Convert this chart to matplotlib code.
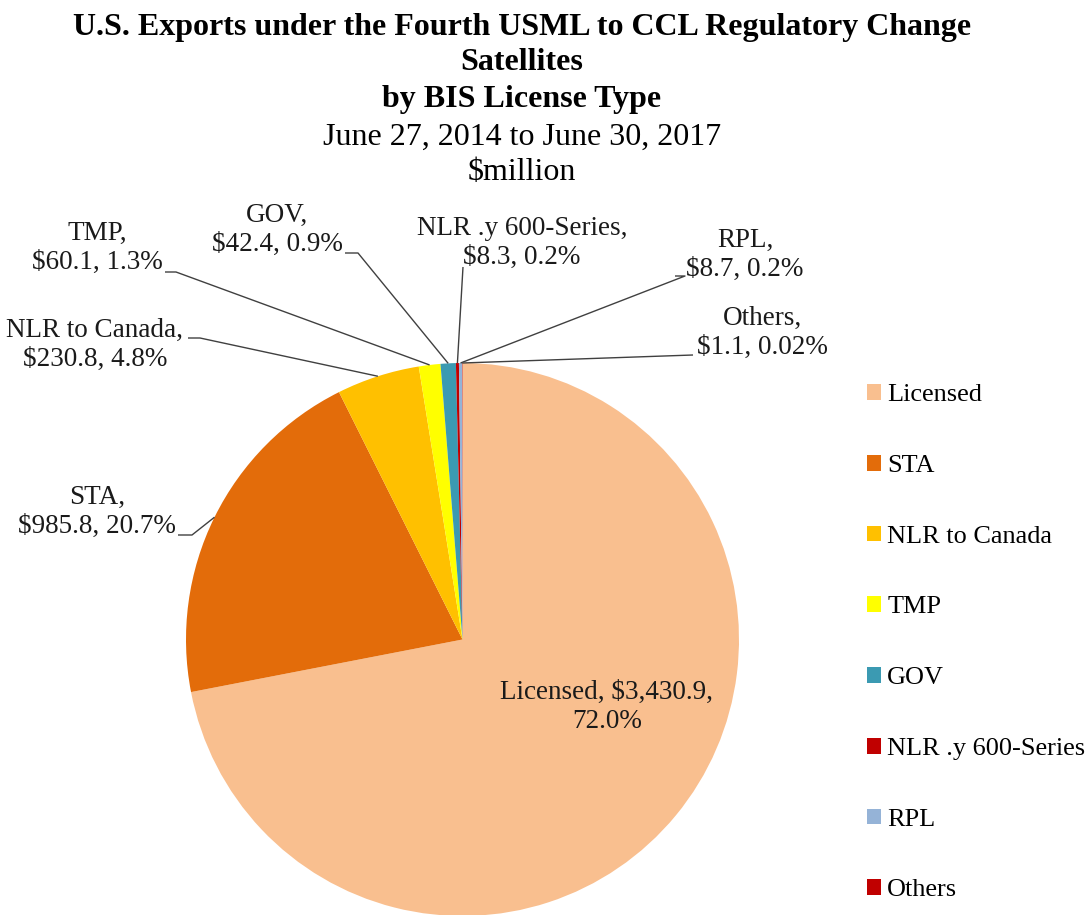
import matplotlib.pyplot as plt
import numpy as np

plt.rcParams['font.family'] = ['Liberation Serif', 'DejaVu Serif']

# data
types = ['Licensed', 'STA', 'NLR to Canada', 'TMP', 'GOV', 'NLR .y 600-Series', 'RPL', 'Others']
values = [3430.9, 985.8, 230.8, 60.1, 42.4, 8.3, 8.7, 1.1]
pct_labels = ['72.0%', '20.7%', '4.8%', '1.3%', '0.9%', '0.2%', '0.2%', '0.02%']
colors = ['#F9BF8F', '#E36C0A', '#FFC000', '#FFFF00', '#3B9AB2', '#C00000', '#95B3D7', '#C00000']

W, H = 1091, 915
fig = plt.figure(figsize=(W / 100, H / 100), dpi=100)
# axes in pixel units (y measured up from the bottom)
ax = fig.add_axes([0, 0, 1, 1])

cx, cy, r = 462.5, H - 639.5, 276.5
wedges, _ = ax.pie(values, colors=colors, startangle=90, counterclock=False,
                   center=(cx, cy), radius=r, frame=True,
                   wedgeprops=dict(linewidth=0))
ax.set_xlim(0, W)
ax.set_ylim(0, H)
ax.axis('off')

# title
tx0 = 522 / W
fig.text(tx0, 1 - 27 / H, 'U.S. Exports under the Fourth USML to CCL Regulatory Change',
         ha='center', va='center', fontsize=23, fontweight='bold')
fig.text(tx0, 1 - 62 / H, 'Satellites', ha='center', va='center', fontsize=23, fontweight='bold')
fig.text(tx0, 1 - 100 / H, 'by BIS License Type', ha='center', va='center', fontsize=23, fontweight='bold')
fig.text(tx0, 1 - 137 / H, 'June 27, 2014 to June 30, 2017', ha='center', va='center', fontsize=23)
fig.text(tx0, 1 - 172 / H, '$million', ha='center', va='center', fontsize=23)


def fmt(v):
    return '${:,.1f}'.format(v)


# label layout: text centre (px from top), leader start, elbow (px from top)
label_pos = {
    'Licensed': ((607, 707), None, None),
    'STA': ((97, 512), (178, 535), (192, 535)),
    'NLR to Canada': ((95, 345), (188, 338), (200, 338)),
    'TMP': ((97, 248), (165, 272), (176, 272)),
    'GOV': ((277, 230), (345, 253), (358, 253)),
    'NLR .y 600-Series': ((522, 243), (463, 267), (463, 267)),
    'RPL': ((745, 255), (675, 276), (685, 276)),
    'Others': ((762, 333), (693, 355), (693, 355)),
}

for i, name in enumerate(types):
    (tx, ty), start, elbow = label_pos[name]
    if name == 'Licensed':
        txt = name + ', ' + fmt(values[i]) + ',\n' + pct_labels[i]
    else:
        txt = name + ',\n' + fmt(values[i]) + ', ' + pct_labels[i]
    ax.text(tx, H - ty, txt, ha='center', va='center', fontsize=19.5,
            linespacing=1.2, color='#1a1a1a')
    if start is None:
        continue
    w = wedges[i]
    mid = np.deg2rad((w.theta1 + w.theta2) / 2)
    ex, ey = cx + r * np.cos(mid), cy + r * np.sin(mid)
    ax.plot([start[0], elbow[0], ex], [H - start[1], H - elbow[1], ey],
            color='#404040', lw=1.0, solid_capstyle='butt')

leg = fig.legend(wedges, types, loc='upper left', bbox_to_anchor=(867 / W, 1 - 384 / H),
                 frameon=False, fontsize=18.9, labelspacing=1.85,
                 handlelength=0.55, handleheight=0.55, handletextpad=0.22,
                 borderaxespad=0, borderpad=0)

fig.savefig('out.png', dpi=100)
